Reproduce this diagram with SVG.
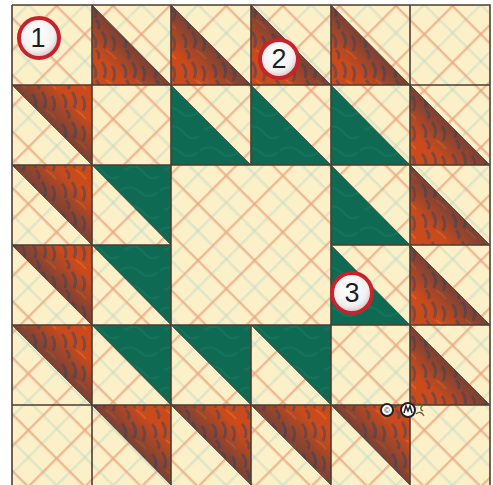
<svg xmlns="http://www.w3.org/2000/svg" width="493" height="485" viewBox="0 0 493 485">
  <defs>
    <pattern id="plaid" patternUnits="userSpaceOnUse" width="40" height="40" patternTransform="rotate(45)">
      <rect width="40" height="40" fill="#fbf0c8"/>
      <rect x="22" y="0" width="2.5" height="40" fill="#bcd8c4" opacity="0.45"/>
      <rect x="0" y="22" width="40" height="2.5" fill="#bcd8c4" opacity="0.45"/>
      <rect x="3" y="0" width="2.4" height="40" fill="#e9a683" opacity="0.75"/>
      <rect x="0" y="3" width="40" height="2.4" fill="#e9a683" opacity="0.75"/>
    </pattern>
    <pattern id="rust" patternUnits="userSpaceOnUse" width="30" height="30">
      <rect width="30" height="30" fill="#cb4a1b"/>
      <path d="M2 4 q6 6 3 14 M12 2 q6 8 2 16 M22 6 q5 7 1 15 M6 20 q5 5 2 9" stroke="#4a4a5a" stroke-width="3" fill="none" opacity="0.6"/>
      <path d="M16 20 q6 4 10 9" stroke="#e2621e" stroke-width="2" fill="none" opacity="0.8"/>
    </pattern>
    <pattern id="teal" patternUnits="userSpaceOnUse" width="40" height="40">
      <rect width="40" height="40" fill="#0f6a53"/>
      <path d="M5 10 q10 -8 18 2 t16 4 M0 30 q12 -6 20 2 t18 0" stroke="#1a7a61" stroke-width="2" fill="none" opacity="0.6"/>
    </pattern>
    <linearGradient id="shadeL" x1="0" y1="1" x2="0.5" y2="0.5">
      <stop offset="0.45" stop-color="#343a4c" stop-opacity="0"/>
      <stop offset="1" stop-color="#343a4c" stop-opacity="0.55"/>
    </linearGradient>
    <linearGradient id="shadeU" x1="1" y1="0" x2="0.5" y2="0.5">
      <stop offset="0.45" stop-color="#343a4c" stop-opacity="0"/>
      <stop offset="1" stop-color="#343a4c" stop-opacity="0.55"/>
    </linearGradient>
    <radialGradient id="ball" cx="0.45" cy="0.4" r="0.6">
      <stop offset="0" stop-color="#ffffff"/>
      <stop offset="0.7" stop-color="#f4f0f0"/>
      <stop offset="1" stop-color="#cfc4c4"/>
    </radialGradient>
    <style>
      .r { fill: url(#rust); }
      .sl { fill: url(#shadeL); }
      .su { fill: url(#shadeU); }
      .g { fill: url(#teal); }
      .seam { stroke: #4d3d32; stroke-width: 1.6; fill: none; }
      .diag { stroke: #3a3030; stroke-width: 1; fill: none; opacity: 0.6; }
      .badge { fill: url(#ball); stroke: #c8222c; stroke-width: 4; }
      .num { font-family: "Liberation Sans", Arial, sans-serif; font-size: 27px; fill: #1e1e1e; text-anchor: middle; }
    </style>
  </defs>

  <rect width="493" height="485" fill="#ffffff"/>
  <rect id="background" x="12" y="5" width="478" height="480" fill="url(#plaid)"/>

  <!-- Row 0 -->
  <g id="r0c1"><polygon class="r" points="92,5 171,85 92,85"/><polygon class="sl" points="92,5 171,85 92,85"/></g>
  <g id="r0c2"><polygon class="r" points="171,5 251,85 171,85"/><polygon class="sl" points="171,5 251,85 171,85"/></g>
  <g id="r0c3"><polygon class="r" points="251,5 331,85 251,85"/><polygon class="sl" points="251,5 331,85 251,85"/></g>
  <g id="r0c4"><polygon class="r" points="331,5 410,85 331,85"/><polygon class="sl" points="331,5 410,85 331,85"/></g>

  <!-- Row 1 -->
  <g id="r1c0"><polygon class="r" points="12,85 92,85 92,165"/><polygon class="su" points="12,85 92,85 92,165"/></g>
  <g id="r1c2"><polygon class="g" points="171,85 251,165 171,165"/></g>
  <g id="r1c3"><polygon class="g" points="251,85 331,165 251,165"/></g>
  <g id="r1c4"><polygon class="g" points="331,85 410,165 331,165"/></g>
  <g id="r1c5"><polygon class="r" points="410,85 490,165 410,165"/><polygon class="sl" points="410,85 490,165 410,165"/></g>

  <!-- Row 2 -->
  <g id="r2c0"><polygon class="r" points="12,165 92,165 92,245"/><polygon class="su" points="12,165 92,165 92,245"/></g>
  <g id="r2c1"><polygon class="g" points="92,165 171,165 171,245"/></g>
  <g id="r2c4"><polygon class="g" points="331,165 410,245 331,245"/></g>
  <g id="r2c5"><polygon class="r" points="410,165 490,245 410,245"/><polygon class="sl" points="410,165 490,245 410,245"/></g>

  <!-- Row 3 -->
  <g id="r3c0"><polygon class="r" points="12,245 92,245 92,325"/><polygon class="su" points="12,245 92,245 92,325"/></g>
  <g id="r3c1"><polygon class="g" points="92,245 171,245 171,325"/></g>
  <g id="r3c4"><polygon class="g" points="331,245 410,325 331,325"/></g>
  <g id="r3c5"><polygon class="r" points="410,245 490,325 410,325"/><polygon class="sl" points="410,245 490,325 410,325"/></g>

  <!-- Row 4 -->
  <g id="r4c0"><polygon class="r" points="12,325 92,325 92,405"/><polygon class="su" points="12,325 92,325 92,405"/></g>
  <g id="r4c1"><polygon class="g" points="92,325 171,325 171,405"/></g>
  <g id="r4c2"><polygon class="g" points="171,325 251,325 251,405"/></g>
  <g id="r4c3"><polygon class="g" points="251,325 331,325 331,405"/></g>
  <g id="r4c5"><polygon class="r" points="410,325 490,405 410,405"/><polygon class="sl" points="410,325 490,405 410,405"/></g>

  <!-- Row 5 -->
  <g id="r5c1"><polygon class="r" points="92,405 171,405 171,485"/><polygon class="su" points="92,405 171,405 171,485"/></g>
  <g id="r5c2"><polygon class="r" points="171,405 251,405 251,485"/><polygon class="su" points="171,405 251,405 251,485"/></g>
  <g id="r5c3"><polygon class="r" points="251,405 331,405 331,485"/><polygon class="su" points="251,405 331,405 331,485"/></g>
  <g id="r5c4"><polygon class="r" points="331,405 410,405 410,485"/><polygon class="su" points="331,405 410,405 410,485"/></g>

  <!-- Seams -->
  <g id="seams">
    <path class="diag" d="M92,5 L171,85 M171,5 L251,85 M251,5 L331,85 M331,5 L410,85
      M12,85 L92,165 M171,85 L251,165 M251,85 L331,165 M331,85 L410,165 M410,85 L490,165
      M12,165 L92,245 M92,165 L171,245 M331,165 L410,245 M410,165 L490,245
      M12,245 L92,325 M92,245 L171,325 M331,245 L410,325 M410,245 L490,325
      M12,325 L92,405 M92,325 L171,405 M171,325 L251,405 M251,325 L331,405 M410,325 L490,405
      M92,405 L171,485 M171,405 L251,485 M251,405 L331,485 M331,405 L410,485"/>
    <path class="seam" d="M12,5 H490 V485 M12,5 V485
      M12,85 H490 M12,165 H490 M12,405 H490 M12,325 H490
      M12,245 H171 M331,245 H490
      M92,5 V485 M410,5 V485 M171,5 V485 M331,5 V485
      M251,5 V165 M251,325 V485"/>
  </g>

  <!-- Badges -->
  <g id="badge1">
    <circle class="badge" cx="39" cy="38" r="20"/>
    <text class="num" x="38" y="47">1</text>
  </g>
  <g id="badge2">
    <circle class="badge" cx="279" cy="59" r="19"/>
    <text class="num" x="279" y="68">2</text>
  </g>
  <g id="badge3">
    <circle class="badge" cx="352" cy="293" r="20"/>
    <text class="num" x="352" y="302">3</text>
  </g>

  <!-- Logo -->
  <g id="logo">
    <circle cx="387" cy="410" r="6" fill="#ffffff" stroke="#222" stroke-width="2"/>
    <text x="387" y="413" font-family="Liberation Sans, Arial, sans-serif" font-size="8" text-anchor="middle" fill="#222">©</text>
    <circle cx="408" cy="410" r="7" fill="#ffffff" stroke="#222" stroke-width="2"/>
    <path d="M404,413 L406,406 L408,411 L410,406 L412,413" stroke="#222" stroke-width="1.5" fill="none"/>
    <path d="M416,405 q4,-3 6,1 q-3,3 1,5 M416,414 q5,-4 8,2" stroke="#6a5a3a" stroke-width="1.3" fill="none"/>
  </g>
</svg>
